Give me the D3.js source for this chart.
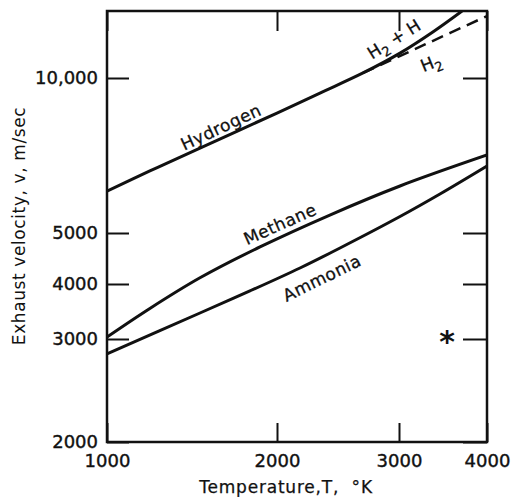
<!DOCTYPE html>
<html>
<head>
<meta charset="utf-8">
<script src="https://cdn.jsdelivr.net/npm/d3@7"></script>
<style>
  html, body { margin: 0; padding: 0; background: #fff; }
  svg { display: block; }
  text { font-family: "DejaVu Sans", sans-serif; fill: #111; }
</style>
</head>
<body>
<svg id="chart" width="512" height="497"></svg>
<script>
// ---- data ----
const xTicks = [1000, 2000, 3000, 4000];
const xTickLabels = ["1000", "2000", "3000", "4000"];
const yTicks = [2000, 3000, 4000, 5000, 10000];
const yTickLabels = ["2000", "3000", "4000", "5000", "10,000"];

// Hydrogen (H2 + H, equilibrium)
const hydrogenT = [1000, 1191, 1461, 2000, 2307, 2662, 3010, 3351, 3687];
const hydrogenV = [6030, 6600, 7310, 8550, 9350, 10230, 11180, 12290, 13500];

// Hydrogen, H2 only (dashed)
const h2T = [2662, 3266, 4000];
const h2V = [10230, 11620, 13200];

const methaneT = [1000, 1191, 1461, 1866, 2384, 3010, 4000];
const methaneV = [3031, 3520, 4110, 4705, 5419, 6170, 7087];

const ammoniaT = [1000, 1461, 1791, 2159, 2466, 3010, 3430, 4000];
const ammoniaV = [2828, 3437, 3857, 4290, 4683, 5383, 5953, 6747];

const curveLabels = [
  { text: "Hydrogen", T: 1592, v: 8030, angle: -25 },
  { text: "Methane", T: 2020, v: 5204, angle: -24 },
  { text: "Ammonia", T: 2322, v: 4106, angle: -26 }
];

// ---- layout ----
const L = 107, R = 487, T0 = 11, B = 442;
const svg = d3.select("#chart");

const x = d3.scaleLog()
  .domain([1000, 2000, 3000, 4000])
  .range([L, 277, 399, R]);
const y = d3.scaleLog()
  .domain([2000, 3000, 4000, 5000, 10000, 13500])
  .range([B, 339, 284, 233, 78, T0]);

svg.append("defs").append("clipPath").attr("id", "clip")
  .append("rect").attr("x", L).attr("y", T0).attr("width", R - L).attr("height", B - T0);

const line = d3.line().x(d => x(d[0])).y(d => y(d[1])).curve(d3.curveCatmullRom.alpha(0.5));
const zip = (a, b) => a.map((t, i) => [t, b[i]]);

const g = svg.append("g").attr("clip-path", "url(#clip)");
g.append("path").attr("d", line(zip(hydrogenT, hydrogenV)))
  .attr("fill", "none").attr("stroke", "#111").attr("stroke-width", 3);
g.append("path").attr("d", line(zip(h2T, h2V)))
  .attr("fill", "none").attr("stroke", "#111").attr("stroke-width", 2.5)
  .attr("stroke-dasharray", "12,7");
g.append("path").attr("d", line(zip(methaneT, methaneV)))
  .attr("fill", "none").attr("stroke", "#111").attr("stroke-width", 3);
g.append("path").attr("d", line(zip(ammoniaT, ammoniaV)))
  .attr("fill", "none").attr("stroke", "#111").attr("stroke-width", 3);

// ---- axes ----
const fs = "18px";
const yAxisL = d3.axisLeft(y).tickValues(yTicks).tickSize(-22).tickPadding(9)
  .tickFormat((d, i) => yTickLabels[i]);
const gl = svg.append("g").attr("transform", `translate(${L},0)`).call(yAxisL);
const yAxisR = d3.axisRight(y).tickValues(yTicks).tickSize(-24).tickFormat("");
const gr = svg.append("g").attr("transform", `translate(${R},0)`).call(yAxisR);
const xAxisB = d3.axisBottom(x).tickValues(xTicks).tickSize(-19).tickPadding(12)
  .tickFormat((d, i) => xTickLabels[i]);
const gb = svg.append("g").attr("transform", `translate(0,${B})`).call(xAxisB);
const xAxisT = d3.axisTop(x).tickValues(xTicks).tickSize(-20).tickFormat("");
const gt = svg.append("g").attr("transform", `translate(0,${T0})`).call(xAxisT);

[gl, gr, gb, gt].forEach(a => {
  a.select(".domain").remove();
  a.selectAll(".tick line").attr("stroke", "#111").attr("stroke-width", 2);
  a.selectAll(".tick text").attr("font-size", fs).attr("font-family", "DejaVu Sans")
    .attr("fill", "#111").attr("stroke", "#111").attr("stroke-width", 0.4);
});

svg.append("rect").attr("x", L).attr("y", T0).attr("width", R - L).attr("height", B - T0)
  .attr("fill", "none").attr("stroke", "#111").attr("stroke-width", 2.5);

// ---- titles ----
svg.append("text").attr("x", 286).attr("y", 493).attr("text-anchor", "middle")
  .attr("font-size", "17px").attr("letter-spacing", "0.8px")
  .attr("stroke", "#111").attr("stroke-width", 0.25)
  .style("white-space", "pre").text("Temperature,T,  °K");
svg.append("text").attr("transform", "translate(25,226) rotate(-90)")
  .attr("text-anchor", "middle").attr("font-size", "17px").attr("letter-spacing", "0.6px")
  .text("Exhaust velocity, v, m/sec");

// ---- curve labels ----
curveLabels.forEach(c => {
  svg.append("text")
    .attr("transform", `translate(${x(c.T)},${y(c.v)}) rotate(${c.angle})`)
    .attr("text-anchor", "middle").attr("dy", "0.35em")
    .attr("font-size", "17px").attr("letter-spacing", "0.5px")
    .attr("stroke", "#111").attr("stroke-width", 0.3)
    .text(c.text);
});

// H2 + H label
const t1 = svg.append("text")
  .attr("transform", `translate(${x(2950)},${y(11900)}) rotate(-32)`)
  .attr("text-anchor", "middle").attr("dy", "0.35em").attr("font-size", "17px")
  .attr("stroke", "#111").attr("stroke-width", 0.3);
t1.append("tspan").text("H");
t1.append("tspan").attr("font-size", "13px").attr("dy", "5").text("2");
t1.append("tspan").attr("dy", "-5").text(" + H");

const t2 = svg.append("text")
  .attr("transform", `translate(${x(3330)},${y(10700)}) rotate(-22)`)
  .attr("text-anchor", "middle").attr("dy", "0.35em").attr("font-size", "17px")
  .attr("stroke", "#111").attr("stroke-width", 0.3);
t2.append("tspan").text("H");
t2.append("tspan").attr("font-size", "13px").attr("dy", "5").text("2");

// asterisk
svg.append("text").attr("x", 447).attr("y", 352).attr("text-anchor", "middle")
  .attr("font-size", "30px").attr("font-weight", "bold").text("*");
</script>
</body>
</html>
